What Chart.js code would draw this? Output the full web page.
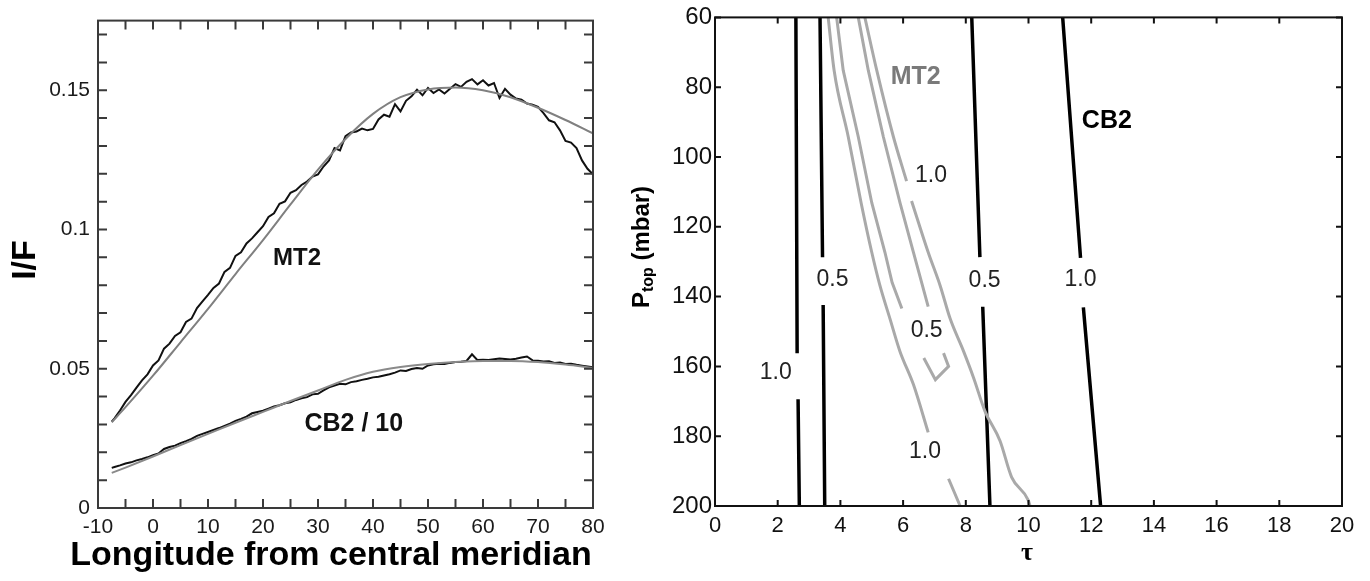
<!DOCTYPE html>
<html>
<head>
<meta charset="utf-8">
<title>MT2 / CB2 limb darkening and contours</title>
<script src="https://cdn.jsdelivr.net/npm/chart.js@4.4.1/dist/chart.umd.min.js"></script>
<style>
    html, body { margin: 0; padding: 0; background: #fff; }
    #wrap { position: relative; width: 1370px; height: 581px; overflow: hidden; }
    .panel { position: absolute; top: 0; }
    #leftPanel { left: 0; }
    #rightPanel { left: 600px; }
</style>
</head>
<body>
<div id="wrap">
    <div class="panel" id="leftPanel"><canvas id="limbChart" width="640" height="581"></canvas></div>
    <div class="panel" id="rightPanel"><canvas id="contourChart" width="770" height="581"></canvas></div>
</div>
<script>
// ---- Left panel: I/F vs longitude from central meridian ----
const lonObs = [-7.5, -7, -6, -5, -4, -3, -2, -1, 0, 1, 2, 3, 4, 5, 6, 7, 8, 9, 10,
    11, 12, 13, 14, 15, 16, 17, 18, 19, 20, 21, 22, 23, 24, 25, 26, 27, 28, 29, 30,
    31, 32, 33, 34, 35, 36, 37, 38, 39, 40, 41, 42, 43, 44, 45, 46, 47, 48, 49, 50,
    51, 52, 53, 54, 55, 56, 57, 58, 59, 60, 61, 62, 63, 64, 65, 66, 67, 68, 69, 70,
    71, 72, 73, 74, 75, 76, 77, 78, 79, 80];

const mt2Obs = [0.0310, 0.0322, 0.0350, 0.0381, 0.0405, 0.0432, 0.0458, 0.0480, 0.0512, 0.0530,
    0.0572, 0.0590, 0.0618, 0.0631, 0.0668, 0.0680, 0.0718, 0.0742, 0.0765,
    0.0790, 0.0806, 0.0848, 0.0862, 0.0905, 0.0918, 0.0950, 0.0968, 0.0990, 0.1012,
    0.1045, 0.1058, 0.1092, 0.1101, 0.1132, 0.1141, 0.1160, 0.1172, 0.1190, 0.1198,
    0.1226, 0.1248, 0.1292, 0.1284, 0.1335, 0.1348, 0.1352, 0.1362, 0.1356, 0.1361,
    0.1395, 0.1412, 0.1405, 0.1450, 0.1424, 0.1462, 0.1478, 0.1502, 0.1482, 0.1508,
    0.1490, 0.1503, 0.1488, 0.1505, 0.1522, 0.1512, 0.1530, 0.1540, 0.1521, 0.1536,
    0.1517, 0.1526, 0.1472, 0.1505, 0.1484, 0.1470, 0.1466, 0.1452, 0.1448, 0.1440,
    0.1418, 0.1392, 0.1385, 0.1356, 0.1318, 0.1312, 0.1292, 0.1248, 0.1218, 0.1198];

const cb2Obs = [0.0144, 0.0147, 0.0153, 0.0160, 0.0164, 0.0171, 0.0176, 0.0182, 0.0190, 0.0196,
    0.0212, 0.0219, 0.0224, 0.0233, 0.0240, 0.0248, 0.0259, 0.0266, 0.0273,
    0.0280, 0.0287, 0.0295, 0.0303, 0.0313, 0.0320, 0.0328, 0.0340, 0.0345, 0.0349,
    0.0357, 0.0365, 0.0369, 0.0376, 0.0380, 0.0388, 0.0394, 0.0398, 0.0408, 0.0410,
    0.0422, 0.0433, 0.0440, 0.0446, 0.0444, 0.0452, 0.0455, 0.0460, 0.0464, 0.0469,
    0.0471, 0.0476, 0.0480, 0.0486, 0.0494, 0.0492, 0.0499, 0.0503, 0.0500, 0.0512,
    0.0516, 0.0518, 0.0517, 0.0521, 0.0524, 0.0525, 0.0528, 0.0552, 0.0531, 0.0532,
    0.0531, 0.0534, 0.0537, 0.0535, 0.0533, 0.0536, 0.0540, 0.0544, 0.0530, 0.0529,
    0.0526, 0.0527, 0.0521, 0.0522, 0.0517, 0.0518, 0.0514, 0.0511, 0.0508, 0.0505];

const lonFit = [-7.5, -5, 0, 5, 10, 15, 20, 25, 30, 35, 40, 45, 50, 55, 60, 65, 70, 75, 80];
const mt2Fit = [0.0308, 0.0362, 0.0475, 0.0595, 0.0715, 0.0840, 0.0962, 0.1090, 0.1215, 0.1325,
    0.1415, 0.1475, 0.1503, 0.1510, 0.1500, 0.1475, 0.1437, 0.1393, 0.1345];
const cb2Fit = [0.0126, 0.0145, 0.0185, 0.0226, 0.0266, 0.0306, 0.0345, 0.0384, 0.0422, 0.0460,
    0.0489, 0.0506, 0.0517, 0.0524, 0.0528, 0.0528, 0.0524, 0.0515, 0.0503];

const lonTickLabels = [-10, 0, 10, 20, 30, 40, 50, 60, 70, 80];
const lonMinorTicks = [-5, 0, 5, 10, 15, 20, 25, 30, 35, 40, 45, 50, 55, 60, 65, 70, 75];
const ifTickLabels = [0, 0.05, 0.1, 0.15];
const ifMinorTicks = [0.01, 0.02, 0.03, 0.04, 0.05, 0.06, 0.07, 0.08, 0.09, 0.1,
    0.11, 0.12, 0.13, 0.14, 0.15, 0.16, 0.17];

// ---- Right panel: contours in (tau, P_top); null = gap for a contour label ----
const cb2Tau10Left = [2.58, 2.62, null, 2.65, 2.69];
const cb2P10Left = [60, 156.2, null, 169.4, 200];
const cb2Tau05Left = [3.35, 3.43, null, 3.45, 3.50];
const cb2P05Left = [60, 128.7, null, 142.4, 200];
const cb2Tau05Right = [8.19, 8.45, null, 8.54, 8.77];
const cb2P05Right = [60, 128.7, null, 142.9, 200];
const cb2Tau10Right = [11.09, 11.66, null, 11.75, 12.3];
const cb2P10Right = [60, 128.9, null, 143.1, 200];

const mt2Tau10Left = [3.61, 3.80, 4.25, 4.66, 5.00, 5.26, 5.58, 5.90, 6.33, 6.80, null, 7.45, 7.82];
const mt2P10Left = [60, 75.2, 94.2, 113.1, 127.3, 136.8, 146.3, 155.7, 165.2, 178.9, null, 192.2, 200];
const mt2Tau05 = [3.88, 4.09, 4.57, 5.00, 5.42, 5.65, 5.96, null,
    6.66, 7.03, 7.45, 7.29, null,
    6.80, 6.33, 5.90, 5.37, 4.89, 4.57];
const mt2P05 = [60, 75.2, 94.2, 113.1, 127.3, 136, 143.4, null,
    157.6, 163.8, 160, 156.2, null,
    142.9, 127.3, 113.1, 94.2, 75.2, 60];
const mt2Tau10Right = [4.78, 5.16, 5.69, 6.11, null, 6.27, 6.80, 7.18, 7.50, 7.93, 8.25, 8.61, 9.09, 9.46, 9.99, 10.05];
const mt2P10Right = [60, 75.2, 94.2, 106.9, null, 112.6, 127.3, 136.8, 146.3, 155.7, 163.3, 172.8, 181.3, 191.7, 198.3, 200];

const tauTicks = [0, 2, 4, 6, 8, 10, 12, 14, 16, 18, 20];
const pTicks = [60, 80, 100, 120, 140, 160, 180, 200];

const FONT = "'Liberation Sans', Arial, sans-serif";

function toPoints(xs, ys) {
    return xs.map(function(x, i) {
        return { x: x, y: ys[i] };
    });
}

function lineSet(xs, ys, color, width, smooth) {
    return {
        data: toPoints(xs, ys),
        showLine: true,
        borderColor: color,
        borderWidth: width,
        pointRadius: 0,
        pointHoverRadius: 0,
        tension: smooth ? 0.4 : 0,
        cubicInterpolationMode: smooth ? 'monotone' : 'default',
        spanGaps: false,
        fill: false
    };
}

/**
 * Box round the plot area, inward ticks on all four sides, in-plot labels and axis titles
 */
function framePlugin(cfg) {
    return {
        id: 'frame_' + cfg.name,
        afterDatasetsDraw(chart) {
            const ctx = chart.ctx;
            const a = chart.chartArea;
            const xs = chart.scales.x;
            const ys = chart.scales.y;
            ctx.save();
            ctx.strokeStyle = cfg.frameColor;
            ctx.lineWidth = cfg.frameWidth;
            ctx.strokeRect(a.left, a.top, a.right - a.left, a.bottom - a.top);

            ctx.lineWidth = cfg.tickWidth;
            ctx.beginPath();
            cfg.xTicks.forEach(function(v) {
                const px = xs.getPixelForValue(v);
                ctx.moveTo(px, a.bottom); ctx.lineTo(px, a.bottom - cfg.tickLen);
                ctx.moveTo(px, a.top); ctx.lineTo(px, a.top + cfg.tickLen);
            });
            cfg.yTicks.forEach(function(v) {
                const py = ys.getPixelForValue(v);
                ctx.moveTo(a.left, py); ctx.lineTo(a.left + cfg.tickLen, py);
                ctx.moveTo(a.right, py); ctx.lineTo(a.right - cfg.tickLen, py);
            });
            ctx.stroke();

            ctx.textAlign = 'center';
            ctx.textBaseline = 'middle';
            cfg.labels.forEach(function(l) {
                ctx.font = l.font;
                ctx.fillStyle = l.color;
                ctx.fillText(l.text, xs.getPixelForValue(l.x), ys.getPixelForValue(l.y));
            });
            ctx.restore();
        },
        afterDraw(chart) {
            if (cfg.drawTitles) cfg.drawTitles(chart.ctx);
        }
    };
}

function initLimbChart() {
    const ctx = document.getElementById('limbChart').getContext('2d');
    new Chart(ctx, {
        type: 'scatter',
        data: {
            datasets: [
                lineSet(lonFit, mt2Fit, '#808080', 2, true),
                lineSet(lonFit, cb2Fit, '#8a8a8a', 2, true),
                lineSet(lonObs, mt2Obs, '#111111', 2, false),
                lineSet(lonObs, cb2Obs, '#111111', 2, false)
            ]
        },
        options: {
            responsive: false,
            animation: false,
            events: [],
            layout: { padding: { top: 13.5, right: 47, left: 0, bottom: 0 } },
            plugins: { legend: { display: false }, tooltip: { enabled: false } },
            scales: {
                x: {
                    type: 'linear', min: -10, max: 80,
                    grid: { display: false, drawTicks: false }, border: { display: false },
                    afterBuildTicks: function(s) { s.ticks = lonTickLabels.map(function(v) { return { value: v }; }); },
                    afterFit: function(s) { s.height = 73; },
                    ticks: { font: { family: FONT, size: 21 }, color: '#1a1a1a', padding: 7, autoSkip: false, maxRotation: 0 }
                },
                y: {
                    type: 'linear', min: 0, max: 0.175,
                    grid: { display: false, drawTicks: false }, border: { display: false },
                    afterBuildTicks: function(s) { s.ticks = ifTickLabels.map(function(v) { return { value: v }; }); },
                    afterFit: function(s) { s.width = 98; },
                    ticks: {
                        font: { family: FONT, size: 21 }, color: '#1a1a1a', padding: 8,
                        callback: function(v) { return String(+Number(v).toFixed(2)); }
                    }
                }
            }
        },
        plugins: [framePlugin({
            name: 'limb', frameColor: '#3a3a3a', frameWidth: 2, tickWidth: 2, tickLen: 9,
            xTicks: lonMinorTicks, yTicks: ifMinorTicks,
            labels: [
                { text: 'MT2', x: 26.2, y: 0.0898, font: 'bold 24px ' + FONT, color: '#111' },
                { text: 'CB2 / 10', x: 36.5, y: 0.0302, font: 'bold 25px ' + FONT, color: '#111' }
            ],
            drawTitles: function(c) {
                c.save();
                c.fillStyle = '#000';
                c.font = 'bold 34px ' + FONT;
                c.textAlign = 'center';
                c.textBaseline = 'middle';
                c.fillText('Longitude from central meridian', 331, 556);
                c.translate(26, 260);
                c.rotate(-Math.PI / 2);
                c.fillText('I/F', 0, 0);
                c.restore();
            }
        })]
    });
}

function initContourChart() {
    const ctx = document.getElementById('contourChart').getContext('2d');
    const black = '#000000';
    const grey = '#a9a9a9';
    const labelFont = '23px ' + FONT;
    new Chart(ctx, {
        type: 'scatter',
        data: {
            datasets: [
                lineSet(mt2Tau10Left, mt2P10Left, grey, 3, true),
                lineSet(mt2Tau05, mt2P05, grey, 3, false),
                lineSet(mt2Tau10Right, mt2P10Right, grey, 3, true),
                lineSet(cb2Tau10Left, cb2P10Left, black, 3.5, false),
                lineSet(cb2Tau05Left, cb2P05Left, black, 3.5, false),
                lineSet(cb2Tau05Right, cb2P05Right, black, 3.5, false),
                lineSet(cb2Tau10Right, cb2P10Right, black, 3.5, false)
            ]
        },
        options: {
            responsive: false,
            animation: false,
            events: [],
            layout: { padding: { top: 13, right: 28, left: 0, bottom: 0 } },
            plugins: { legend: { display: false }, tooltip: { enabled: false } },
            scales: {
                x: {
                    type: 'linear', min: 0, max: 20,
                    grid: { display: false, drawTicks: false }, border: { display: false },
                    afterBuildTicks: function(s) { s.ticks = tauTicks.map(function(v) { return { value: v }; }); },
                    afterFit: function(s) { s.height = 75; },
                    ticks: { font: { family: FONT, size: 22 }, color: '#111', padding: 7, autoSkip: false, maxRotation: 0 }
                },
                y: {
                    type: 'linear', min: 60, max: 200, reverse: true,
                    grid: { display: false, drawTicks: false }, border: { display: false },
                    afterBuildTicks: function(s) { s.ticks = pTicks.map(function(v) { return { value: v }; }); },
                    afterFit: function(s) { s.width = 115; },
                    ticks: { font: { family: FONT, size: 24 }, color: '#111', padding: 3 }
                }
            }
        },
        plugins: [framePlugin({
            name: 'contour', frameColor: '#111', frameWidth: 2, tickWidth: 2, tickLen: 6,
            xTicks: tauTicks, yTicks: pTicks,
            labels: [
                { text: 'MT2', x: 6.4, y: 77, font: 'bold 25px ' + FONT, color: '#7a7a7a' },
                { text: 'CB2', x: 12.5, y: 89.8, font: 'bold 25px ' + FONT, color: '#000' },
                { text: '1.0', x: 1.94, y: 161.9, font: labelFont, color: '#222' },
                { text: '0.5', x: 3.75, y: 135.1, font: labelFont, color: '#222' },
                { text: '0.5', x: 8.6, y: 135.4, font: labelFont, color: '#222' },
                { text: '1.0', x: 11.66, y: 135.2, font: labelFont, color: '#222' },
                { text: '1.0', x: 6.89, y: 105.4, font: labelFont, color: '#222' },
                { text: '0.5', x: 6.75, y: 149.8, font: labelFont, color: '#222' },
                { text: '1.0', x: 6.7, y: 184.4, font: labelFont, color: '#222' }
            ],
            drawTitles: function(c) {
                c.save();
                c.fillStyle = '#000';
                c.textAlign = 'left';
                c.textBaseline = 'middle';
                // P_top (mbar), rotated, with a real subscript
                const big = 'bold 24px ' + FONT;
                const small = 'bold 16px ' + FONT;
                c.font = big;
                const wP = c.measureText('P').width;
                const wRest = c.measureText(' (mbar)').width;
                c.font = small;
                const wSub = c.measureText('top').width;
                const total = wP + wSub + wRest;
                c.translate(42, 247);
                c.rotate(-Math.PI / 2);
                let x0 = -total / 2;
                c.font = big;
                c.fillText('P', x0, 0);
                c.font = small;
                c.fillText('top', x0 + wP, 7);
                c.font = big;
                c.fillText(' (mbar)', x0 + wP + wSub, 0);
                c.restore();

                c.save();
                c.fillStyle = '#000';
                c.font = "bold 26px 'Liberation Serif', 'DejaVu Serif', serif";
                c.textAlign = 'center';
                c.textBaseline = 'middle';
                c.fillText('\u03c4', 427, 553);
                c.restore();
            }
        })]
    });
}

document.addEventListener('DOMContentLoaded', function() {
    if (typeof Chart === 'undefined') {
        console.error('Chart.js is not loaded!');
        return;
    }
    try {
        initLimbChart();
        initContourChart();
    } catch (error) {
        console.error('Error drawing charts:', error);
    }
});
</script>
</body>
</html>
